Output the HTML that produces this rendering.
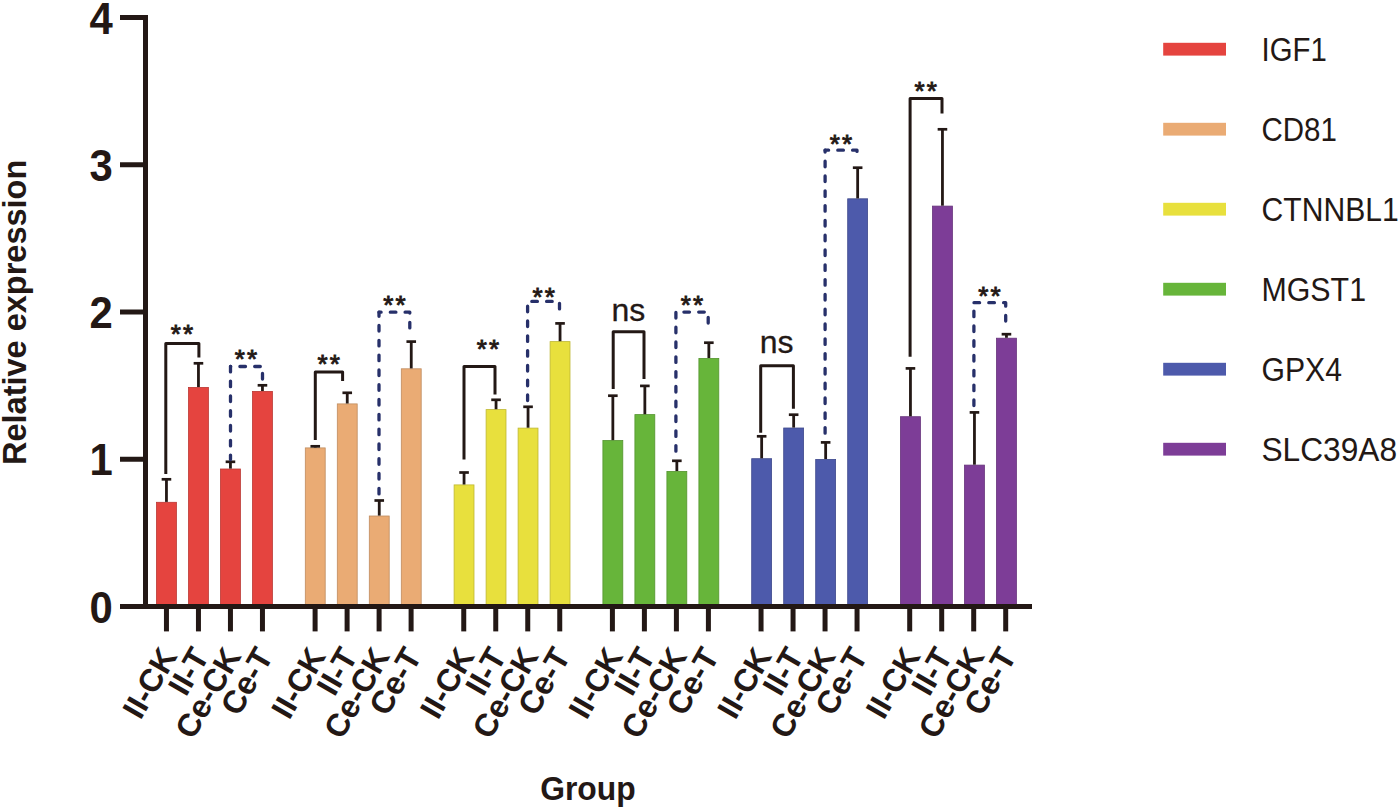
<!DOCTYPE html><html><head><meta charset="utf-8"><style>html,body{margin:0;padding:0;background:#fff;width:1400px;height:811px;overflow:hidden}svg{display:block}text{font-family:"Liberation Sans",sans-serif}</style></head><body>
<svg width="1400" height="811" viewBox="0 0 1400 811">
<rect width="1400" height="811" fill="#fff"/>
<rect x="156.50" y="502.30" width="19.90" height="104.20" fill="#e5443f" stroke="#bb3733" stroke-width="0.8"/>
<rect x="188.50" y="387.40" width="19.90" height="219.10" fill="#e5443f" stroke="#bb3733" stroke-width="0.8"/>
<rect x="220.50" y="469.00" width="19.90" height="137.50" fill="#e5443f" stroke="#bb3733" stroke-width="0.8"/>
<rect x="252.50" y="391.40" width="19.90" height="215.10" fill="#e5443f" stroke="#bb3733" stroke-width="0.8"/>
<rect x="305.30" y="447.90" width="19.90" height="158.60" fill="#eaab74" stroke="#bf8c5f" stroke-width="0.8"/>
<rect x="337.30" y="403.90" width="19.90" height="202.60" fill="#eaab74" stroke="#bf8c5f" stroke-width="0.8"/>
<rect x="369.30" y="516.00" width="19.90" height="90.50" fill="#eaab74" stroke="#bf8c5f" stroke-width="0.8"/>
<rect x="401.30" y="368.80" width="19.90" height="237.70" fill="#eaab74" stroke="#bf8c5f" stroke-width="0.8"/>
<rect x="454.10" y="484.90" width="19.90" height="121.60" fill="#e8e03d" stroke="#beb732" stroke-width="0.8"/>
<rect x="486.10" y="409.60" width="19.90" height="196.90" fill="#e8e03d" stroke="#beb732" stroke-width="0.8"/>
<rect x="518.10" y="428.10" width="19.90" height="178.40" fill="#e8e03d" stroke="#beb732" stroke-width="0.8"/>
<rect x="550.10" y="341.60" width="19.90" height="264.90" fill="#e8e03d" stroke="#beb732" stroke-width="0.8"/>
<rect x="602.90" y="440.50" width="19.90" height="166.00" fill="#67b53a" stroke="#54942f" stroke-width="0.8"/>
<rect x="634.90" y="414.60" width="19.90" height="191.90" fill="#67b53a" stroke="#54942f" stroke-width="0.8"/>
<rect x="666.90" y="471.40" width="19.90" height="135.10" fill="#67b53a" stroke="#54942f" stroke-width="0.8"/>
<rect x="698.90" y="358.40" width="19.90" height="248.10" fill="#67b53a" stroke="#54942f" stroke-width="0.8"/>
<rect x="751.70" y="458.70" width="19.90" height="147.80" fill="#4d5aab" stroke="#3f498c" stroke-width="0.8"/>
<rect x="783.70" y="428.00" width="19.90" height="178.50" fill="#4d5aab" stroke="#3f498c" stroke-width="0.8"/>
<rect x="815.70" y="459.40" width="19.90" height="147.10" fill="#4d5aab" stroke="#3f498c" stroke-width="0.8"/>
<rect x="847.70" y="198.80" width="19.90" height="407.70" fill="#4d5aab" stroke="#3f498c" stroke-width="0.8"/>
<rect x="900.50" y="416.70" width="19.90" height="189.80" fill="#7d3d97" stroke="#66327b" stroke-width="0.8"/>
<rect x="932.50" y="206.10" width="19.90" height="400.40" fill="#7d3d97" stroke="#66327b" stroke-width="0.8"/>
<rect x="964.50" y="465.10" width="19.90" height="141.40" fill="#7d3d97" stroke="#66327b" stroke-width="0.8"/>
<rect x="996.50" y="338.20" width="19.90" height="268.30" fill="#7d3d97" stroke="#66327b" stroke-width="0.8"/>
<line x1="166.45" y1="479.30" x2="166.45" y2="501.90" stroke="#231815" stroke-width="2.8"/>
<line x1="161.65" y1="479.30" x2="171.25" y2="479.30" stroke="#231815" stroke-width="2.7"/>
<line x1="198.45" y1="363.30" x2="198.45" y2="387.00" stroke="#231815" stroke-width="2.8"/>
<line x1="193.65" y1="363.30" x2="203.25" y2="363.30" stroke="#231815" stroke-width="2.7"/>
<line x1="230.45" y1="461.80" x2="230.45" y2="468.60" stroke="#231815" stroke-width="2.8"/>
<line x1="225.65" y1="461.80" x2="235.25" y2="461.80" stroke="#231815" stroke-width="2.7"/>
<line x1="262.45" y1="385.30" x2="262.45" y2="391.00" stroke="#231815" stroke-width="2.8"/>
<line x1="257.65" y1="385.30" x2="267.25" y2="385.30" stroke="#231815" stroke-width="2.7"/>
<line x1="315.25" y1="446.30" x2="315.25" y2="447.50" stroke="#231815" stroke-width="2.8"/>
<line x1="310.45" y1="446.30" x2="320.05" y2="446.30" stroke="#231815" stroke-width="2.7"/>
<line x1="347.25" y1="392.80" x2="347.25" y2="403.50" stroke="#231815" stroke-width="2.8"/>
<line x1="342.45" y1="392.80" x2="352.05" y2="392.80" stroke="#231815" stroke-width="2.7"/>
<line x1="379.25" y1="500.50" x2="379.25" y2="515.60" stroke="#231815" stroke-width="2.8"/>
<line x1="374.45" y1="500.50" x2="384.05" y2="500.50" stroke="#231815" stroke-width="2.7"/>
<line x1="411.25" y1="341.60" x2="411.25" y2="368.40" stroke="#231815" stroke-width="2.8"/>
<line x1="406.45" y1="341.60" x2="416.05" y2="341.60" stroke="#231815" stroke-width="2.7"/>
<line x1="464.05" y1="472.50" x2="464.05" y2="484.50" stroke="#231815" stroke-width="2.8"/>
<line x1="459.25" y1="472.50" x2="468.85" y2="472.50" stroke="#231815" stroke-width="2.7"/>
<line x1="496.05" y1="399.80" x2="496.05" y2="409.20" stroke="#231815" stroke-width="2.8"/>
<line x1="491.25" y1="399.80" x2="500.85" y2="399.80" stroke="#231815" stroke-width="2.7"/>
<line x1="528.05" y1="406.80" x2="528.05" y2="427.70" stroke="#231815" stroke-width="2.8"/>
<line x1="523.25" y1="406.80" x2="532.85" y2="406.80" stroke="#231815" stroke-width="2.7"/>
<line x1="560.05" y1="323.40" x2="560.05" y2="341.20" stroke="#231815" stroke-width="2.8"/>
<line x1="555.25" y1="323.40" x2="564.85" y2="323.40" stroke="#231815" stroke-width="2.7"/>
<line x1="612.85" y1="395.70" x2="612.85" y2="440.10" stroke="#231815" stroke-width="2.8"/>
<line x1="608.05" y1="395.70" x2="617.65" y2="395.70" stroke="#231815" stroke-width="2.7"/>
<line x1="644.85" y1="385.90" x2="644.85" y2="414.20" stroke="#231815" stroke-width="2.8"/>
<line x1="640.05" y1="385.90" x2="649.65" y2="385.90" stroke="#231815" stroke-width="2.7"/>
<line x1="676.85" y1="460.80" x2="676.85" y2="471.00" stroke="#231815" stroke-width="2.8"/>
<line x1="672.05" y1="460.80" x2="681.65" y2="460.80" stroke="#231815" stroke-width="2.7"/>
<line x1="708.85" y1="342.70" x2="708.85" y2="358.00" stroke="#231815" stroke-width="2.8"/>
<line x1="704.05" y1="342.70" x2="713.65" y2="342.70" stroke="#231815" stroke-width="2.7"/>
<line x1="761.65" y1="436.30" x2="761.65" y2="458.30" stroke="#231815" stroke-width="2.8"/>
<line x1="756.85" y1="436.30" x2="766.45" y2="436.30" stroke="#231815" stroke-width="2.7"/>
<line x1="793.65" y1="414.70" x2="793.65" y2="427.60" stroke="#231815" stroke-width="2.8"/>
<line x1="788.85" y1="414.70" x2="798.45" y2="414.70" stroke="#231815" stroke-width="2.7"/>
<line x1="825.65" y1="442.40" x2="825.65" y2="459.00" stroke="#231815" stroke-width="2.8"/>
<line x1="820.85" y1="442.40" x2="830.45" y2="442.40" stroke="#231815" stroke-width="2.7"/>
<line x1="857.65" y1="167.70" x2="857.65" y2="198.40" stroke="#231815" stroke-width="2.8"/>
<line x1="852.85" y1="167.70" x2="862.45" y2="167.70" stroke="#231815" stroke-width="2.7"/>
<line x1="910.45" y1="368.40" x2="910.45" y2="416.30" stroke="#231815" stroke-width="2.8"/>
<line x1="905.65" y1="368.40" x2="915.25" y2="368.40" stroke="#231815" stroke-width="2.7"/>
<line x1="942.45" y1="129.30" x2="942.45" y2="205.70" stroke="#231815" stroke-width="2.8"/>
<line x1="937.65" y1="129.30" x2="947.25" y2="129.30" stroke="#231815" stroke-width="2.7"/>
<line x1="974.45" y1="412.40" x2="974.45" y2="464.70" stroke="#231815" stroke-width="2.8"/>
<line x1="969.65" y1="412.40" x2="979.25" y2="412.40" stroke="#231815" stroke-width="2.7"/>
<line x1="1006.45" y1="334.20" x2="1006.45" y2="337.80" stroke="#231815" stroke-width="2.8"/>
<line x1="1001.65" y1="334.20" x2="1011.25" y2="334.20" stroke="#231815" stroke-width="2.7"/>
<path d="M120,17.5 H145.5 V606.5 H1032" fill="none" stroke="#231815" stroke-width="5"/>
<line x1="120" y1="606.50" x2="146" y2="606.50" stroke="#231815" stroke-width="5"/>
<line x1="120" y1="459.25" x2="146" y2="459.25" stroke="#231815" stroke-width="5"/>
<line x1="120" y1="312.00" x2="146" y2="312.00" stroke="#231815" stroke-width="5"/>
<line x1="120" y1="164.75" x2="146" y2="164.75" stroke="#231815" stroke-width="5"/>
<line x1="120" y1="17.50" x2="146" y2="17.50" stroke="#231815" stroke-width="5"/>
<line x1="166.45" y1="606" x2="166.45" y2="631.4" stroke="#231815" stroke-width="5"/>
<line x1="198.45" y1="606" x2="198.45" y2="631.4" stroke="#231815" stroke-width="5"/>
<line x1="230.45" y1="606" x2="230.45" y2="631.4" stroke="#231815" stroke-width="5"/>
<line x1="262.45" y1="606" x2="262.45" y2="631.4" stroke="#231815" stroke-width="5"/>
<line x1="315.10" y1="606" x2="315.10" y2="631.4" stroke="#231815" stroke-width="5"/>
<line x1="347.10" y1="606" x2="347.10" y2="631.4" stroke="#231815" stroke-width="5"/>
<line x1="379.10" y1="606" x2="379.10" y2="631.4" stroke="#231815" stroke-width="5"/>
<line x1="411.10" y1="606" x2="411.10" y2="631.4" stroke="#231815" stroke-width="5"/>
<line x1="463.75" y1="606" x2="463.75" y2="631.4" stroke="#231815" stroke-width="5"/>
<line x1="495.75" y1="606" x2="495.75" y2="631.4" stroke="#231815" stroke-width="5"/>
<line x1="527.75" y1="606" x2="527.75" y2="631.4" stroke="#231815" stroke-width="5"/>
<line x1="559.75" y1="606" x2="559.75" y2="631.4" stroke="#231815" stroke-width="5"/>
<line x1="612.40" y1="606" x2="612.40" y2="631.4" stroke="#231815" stroke-width="5"/>
<line x1="644.40" y1="606" x2="644.40" y2="631.4" stroke="#231815" stroke-width="5"/>
<line x1="676.40" y1="606" x2="676.40" y2="631.4" stroke="#231815" stroke-width="5"/>
<line x1="708.40" y1="606" x2="708.40" y2="631.4" stroke="#231815" stroke-width="5"/>
<line x1="761.05" y1="606" x2="761.05" y2="631.4" stroke="#231815" stroke-width="5"/>
<line x1="793.05" y1="606" x2="793.05" y2="631.4" stroke="#231815" stroke-width="5"/>
<line x1="825.05" y1="606" x2="825.05" y2="631.4" stroke="#231815" stroke-width="5"/>
<line x1="857.05" y1="606" x2="857.05" y2="631.4" stroke="#231815" stroke-width="5"/>
<line x1="909.70" y1="606" x2="909.70" y2="631.4" stroke="#231815" stroke-width="5"/>
<line x1="941.70" y1="606" x2="941.70" y2="631.4" stroke="#231815" stroke-width="5"/>
<line x1="973.70" y1="606" x2="973.70" y2="631.4" stroke="#231815" stroke-width="5"/>
<line x1="1005.70" y1="606" x2="1005.70" y2="631.4" stroke="#231815" stroke-width="5"/>
<text transform="translate(112.8,622.50) scale(0.94,1)" font-size="44.5" font-weight="bold" text-anchor="end" fill="#231815">0</text>
<text transform="translate(112.8,475.25) scale(0.94,1)" font-size="44.5" font-weight="bold" text-anchor="end" fill="#231815">1</text>
<text transform="translate(112.8,328.00) scale(0.94,1)" font-size="44.5" font-weight="bold" text-anchor="end" fill="#231815">2</text>
<text transform="translate(112.8,180.75) scale(0.94,1)" font-size="44.5" font-weight="bold" text-anchor="end" fill="#231815">3</text>
<text transform="translate(112.8,33.50) scale(0.94,1)" font-size="44.5" font-weight="bold" text-anchor="end" fill="#231815">4</text>
<path d="M165.80,474.00 V343.40 H198.90 V357.60" fill="none" stroke="#231815" stroke-width="3.0" stroke-linejoin="round"/>
<text x="183.10" y="342.60" font-size="26" letter-spacing="2.2" text-anchor="middle" fill="#231815" stroke="#231815" stroke-width="0.9">**</text>
<path d="M315.30,440.00 V371.90 H342.60 V381.00" fill="none" stroke="#231815" stroke-width="3.0" stroke-linejoin="round"/>
<text x="329.70" y="373.20" font-size="26" letter-spacing="2.2" text-anchor="middle" fill="#231815" stroke="#231815" stroke-width="0.9">**</text>
<path d="M464.00,459.50 V366.60 H495.00 V394.50" fill="none" stroke="#231815" stroke-width="3.0" stroke-linejoin="round"/>
<text x="489.10" y="357.50" font-size="26" letter-spacing="2.2" text-anchor="middle" fill="#231815" stroke="#231815" stroke-width="0.9">**</text>
<path d="M613.20,389.00 V331.70 H644.00 V379.00" fill="none" stroke="#231815" stroke-width="3.0" stroke-linejoin="round"/>
<text x="628.30" y="321.00" font-size="32" text-anchor="middle" fill="#231815" stroke="#231815" stroke-width="0.3">ns</text>
<path d="M760.70,432.80 V365.80 H793.40 V408.80" fill="none" stroke="#231815" stroke-width="3.0" stroke-linejoin="round"/>
<text x="776.70" y="352.90" font-size="32" text-anchor="middle" fill="#231815" stroke="#231815" stroke-width="0.3">ns</text>
<path d="M910.10,356.70 V98.40 H942.00 V113.60" fill="none" stroke="#231815" stroke-width="3.0" stroke-linejoin="round"/>
<text x="926.70" y="100.30" font-size="26" letter-spacing="2.2" text-anchor="middle" fill="#231815" stroke="#231815" stroke-width="0.9">**</text>
<path d="M230.50,366.50 V459.50" fill="none" stroke="#27306a" stroke-width="3.3" stroke-linecap="round" stroke-dasharray="5.6 9.2" stroke-dashoffset="0.2"/>
<path d="M230.50,366.50 H262.50 V379.50" fill="none" stroke="#27306a" stroke-width="3.3" stroke-linecap="round" stroke-linejoin="round" stroke-dasharray="5.6 9.2" stroke-dashoffset="5.4"/>
<text x="247.10" y="367.90" font-size="26" letter-spacing="2.2" text-anchor="middle" fill="#231815" stroke="#231815" stroke-width="0.9">**</text>
<path d="M379.00,312.20 V498.20" fill="none" stroke="#27306a" stroke-width="3.3" stroke-linecap="round" stroke-dasharray="5.6 9.2" stroke-dashoffset="1.5"/>
<path d="M379.00,312.20 H409.80 V336.50" fill="none" stroke="#27306a" stroke-width="3.3" stroke-linecap="round" stroke-linejoin="round" stroke-dasharray="5.6 9.2" stroke-dashoffset="3.5"/>
<text x="395.60" y="314.30" font-size="26" letter-spacing="2.2" text-anchor="middle" fill="#231815" stroke="#231815" stroke-width="0.9">**</text>
<path d="M527.60,301.40 V404.50" fill="none" stroke="#27306a" stroke-width="3.3" stroke-linecap="round" stroke-dasharray="5.6 9.2" stroke-dashoffset="10"/>
<path d="M527.60,301.40 H559.50 V309.50" fill="none" stroke="#27306a" stroke-width="3.3" stroke-linecap="round" stroke-linejoin="round" stroke-dasharray="5.6 9.2" stroke-dashoffset="10.6"/>
<text x="544.70" y="305.70" font-size="26" letter-spacing="2.2" text-anchor="middle" fill="#231815" stroke="#231815" stroke-width="0.9">**</text>
<path d="M675.90,312.10 V458.50" fill="none" stroke="#27306a" stroke-width="3.3" stroke-linecap="round" stroke-dasharray="5.6 9.2" stroke-dashoffset="14.5"/>
<path d="M675.90,312.10 H708.20 V324.00" fill="none" stroke="#27306a" stroke-width="3.3" stroke-linecap="round" stroke-linejoin="round" stroke-dasharray="5.6 9.2" stroke-dashoffset="6.8"/>
<text x="693.10" y="314.40" font-size="26" letter-spacing="2.2" text-anchor="middle" fill="#231815" stroke="#231815" stroke-width="0.9">**</text>
<path d="M825.10,150.20 V440.10" fill="none" stroke="#27306a" stroke-width="3.3" stroke-linecap="round" stroke-dasharray="5.6 9.2" stroke-dashoffset="3.8"/>
<path d="M825.10,150.20 H857.00 V153.00" fill="none" stroke="#27306a" stroke-width="3.3" stroke-linecap="round" stroke-linejoin="round" stroke-dasharray="5.6 9.2" stroke-dashoffset="2.1"/>
<text x="842.10" y="153.10" font-size="26" letter-spacing="2.2" text-anchor="middle" fill="#231815" stroke="#231815" stroke-width="0.9">**</text>
<path d="M973.90,302.70 V410.10" fill="none" stroke="#27306a" stroke-width="3.3" stroke-linecap="round" stroke-dasharray="5.6 9.2" stroke-dashoffset="6.4"/>
<path d="M973.90,302.70 H1005.70 V322.50" fill="none" stroke="#27306a" stroke-width="3.3" stroke-linecap="round" stroke-linejoin="round" stroke-dasharray="5.6 9.2" stroke-dashoffset="14.7"/>
<text x="990.60" y="304.80" font-size="26" letter-spacing="2.2" text-anchor="middle" fill="#231815" stroke="#231815" stroke-width="0.9">**</text>
<text transform="translate(177.95,656) rotate(-60)" font-size="32" font-weight="bold" text-anchor="end" fill="#231815">II-CK</text>
<text transform="translate(209.95,656) rotate(-60)" font-size="32" font-weight="bold" text-anchor="end" fill="#231815">II-T</text>
<text transform="translate(241.95,656) rotate(-60)" font-size="32" font-weight="bold" text-anchor="end" fill="#231815">Ce-CK</text>
<text transform="translate(273.95,656) rotate(-60)" font-size="32" font-weight="bold" text-anchor="end" fill="#231815">Ce-T</text>
<text transform="translate(326.60,656) rotate(-60)" font-size="32" font-weight="bold" text-anchor="end" fill="#231815">II-CK</text>
<text transform="translate(358.60,656) rotate(-60)" font-size="32" font-weight="bold" text-anchor="end" fill="#231815">II-T</text>
<text transform="translate(390.60,656) rotate(-60)" font-size="32" font-weight="bold" text-anchor="end" fill="#231815">Ce-CK</text>
<text transform="translate(422.60,656) rotate(-60)" font-size="32" font-weight="bold" text-anchor="end" fill="#231815">Ce-T</text>
<text transform="translate(475.25,656) rotate(-60)" font-size="32" font-weight="bold" text-anchor="end" fill="#231815">II-CK</text>
<text transform="translate(507.25,656) rotate(-60)" font-size="32" font-weight="bold" text-anchor="end" fill="#231815">II-T</text>
<text transform="translate(539.25,656) rotate(-60)" font-size="32" font-weight="bold" text-anchor="end" fill="#231815">Ce-CK</text>
<text transform="translate(571.25,656) rotate(-60)" font-size="32" font-weight="bold" text-anchor="end" fill="#231815">Ce-T</text>
<text transform="translate(623.90,656) rotate(-60)" font-size="32" font-weight="bold" text-anchor="end" fill="#231815">II-CK</text>
<text transform="translate(655.90,656) rotate(-60)" font-size="32" font-weight="bold" text-anchor="end" fill="#231815">II-T</text>
<text transform="translate(687.90,656) rotate(-60)" font-size="32" font-weight="bold" text-anchor="end" fill="#231815">Ce-CK</text>
<text transform="translate(719.90,656) rotate(-60)" font-size="32" font-weight="bold" text-anchor="end" fill="#231815">Ce-T</text>
<text transform="translate(772.55,656) rotate(-60)" font-size="32" font-weight="bold" text-anchor="end" fill="#231815">II-CK</text>
<text transform="translate(804.55,656) rotate(-60)" font-size="32" font-weight="bold" text-anchor="end" fill="#231815">II-T</text>
<text transform="translate(836.55,656) rotate(-60)" font-size="32" font-weight="bold" text-anchor="end" fill="#231815">Ce-CK</text>
<text transform="translate(868.55,656) rotate(-60)" font-size="32" font-weight="bold" text-anchor="end" fill="#231815">Ce-T</text>
<text transform="translate(921.20,656) rotate(-60)" font-size="32" font-weight="bold" text-anchor="end" fill="#231815">II-CK</text>
<text transform="translate(953.20,656) rotate(-60)" font-size="32" font-weight="bold" text-anchor="end" fill="#231815">II-T</text>
<text transform="translate(985.20,656) rotate(-60)" font-size="32" font-weight="bold" text-anchor="end" fill="#231815">Ce-CK</text>
<text transform="translate(1017.20,656) rotate(-60)" font-size="32" font-weight="bold" text-anchor="end" fill="#231815">Ce-T</text>
<text transform="translate(26,465) rotate(-90)" font-size="32.5" font-weight="bold" fill="#231815">Relative expression</text>
<text transform="translate(540.2,799.6) scale(0.98,1)" font-size="32.5" font-weight="bold" fill="#231815">Group</text>
<rect x="1163.2" y="42.80" width="62.8" height="12.8" fill="#e5443f"/>
<text transform="translate(1261.5,61.40) scale(0.89,1)" font-size="33" fill="#231815">IGF1</text>
<rect x="1163.2" y="122.80" width="62.8" height="12.8" fill="#eaab74"/>
<text transform="translate(1261.5,141.40) scale(0.894,1)" font-size="33" fill="#231815">CD81</text>
<rect x="1163.2" y="202.80" width="62.8" height="12.8" fill="#e8e03d"/>
<text transform="translate(1261.5,221.40) scale(0.913,1)" font-size="33" fill="#231815">CTNNBL1</text>
<rect x="1163.2" y="282.80" width="62.8" height="12.8" fill="#67b53a"/>
<text transform="translate(1261.5,301.40) scale(0.92,1)" font-size="33" fill="#231815">MGST1</text>
<rect x="1163.2" y="362.80" width="62.8" height="12.8" fill="#4d5aab"/>
<text transform="translate(1261.5,381.40) scale(0.914,1)" font-size="33" fill="#231815">GPX4</text>
<rect x="1163.2" y="442.80" width="62.8" height="12.8" fill="#7d3d97"/>
<text transform="translate(1261.5,461.40) scale(0.96,1)" font-size="33" fill="#231815">SLC39A8</text>
</svg></body></html>
